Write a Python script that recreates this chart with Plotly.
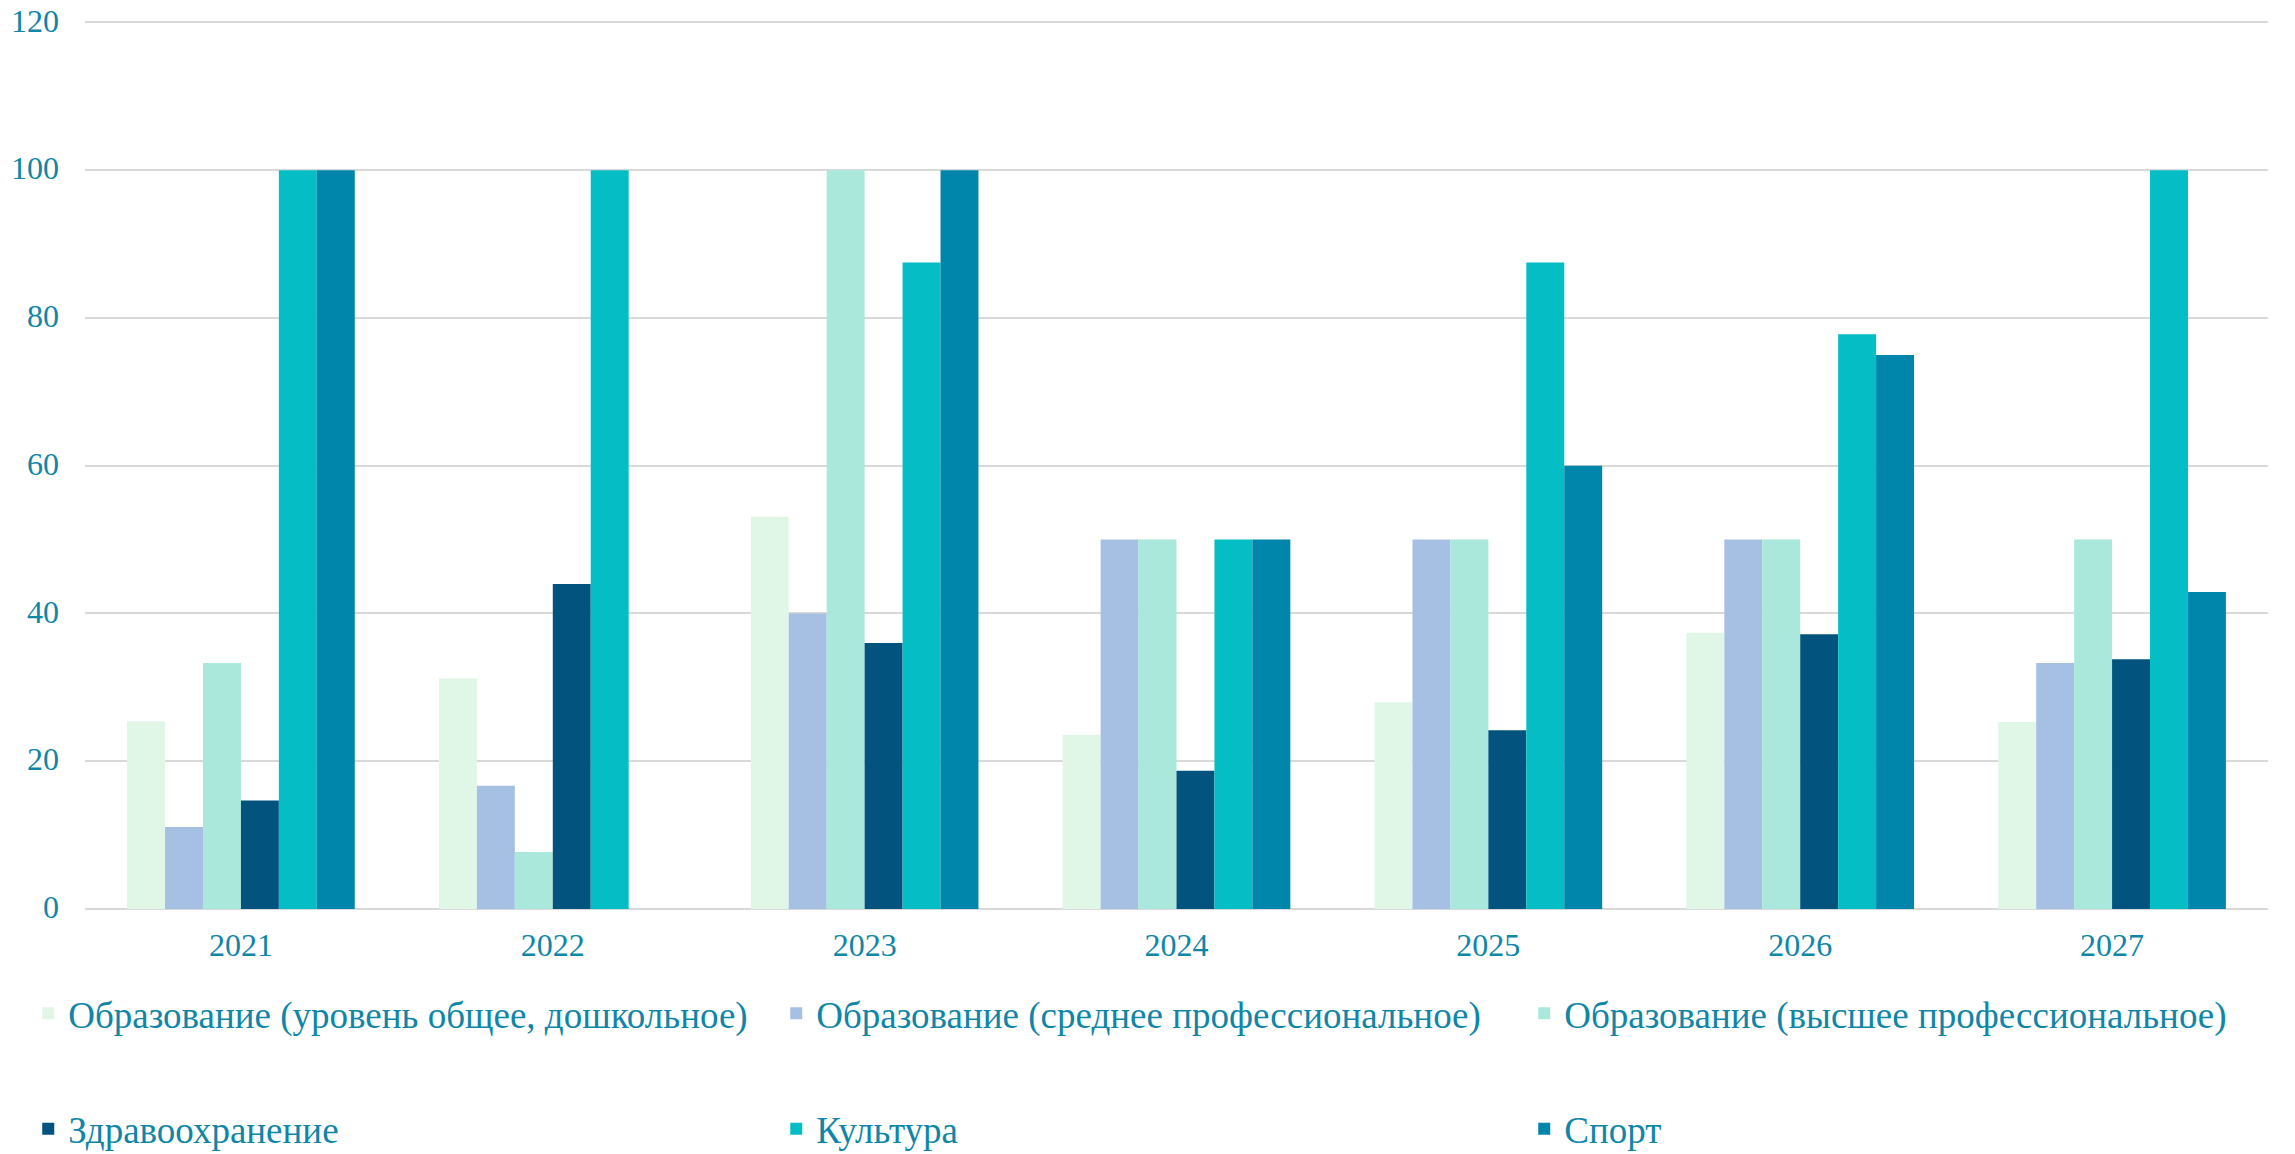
import plotly.graph_objects as go

years = ["2021", "2022", "2023", "2024", "2025", "2026", "2027"]
series_names = [
    "Образование (уровень общее, дошкольное)",
    "Образование (среднее профессиональное)",
    "Образование (высшее профессиональное)",
    "Здравоохранение",
    "Культура",
    "Спорт",
]
edu_general = [25.4, 31.2, 53.1, 23.6, 28.0, 37.4, 25.3]
edu_secondary = [11.1, 16.7, 40.0, 50.0, 50.0, 50.0, 33.3]
edu_higher = [33.3, 7.7, 100.0, 50.0, 50.0, 50.0, 50.0]
health = [14.7, 44.0, 36.0, 18.7, 24.2, 37.2, 33.8]
culture = [100.0, 100.0, 87.5, 50.0, 87.5, 77.8, 100.0]
sport = [100.0, None, 100.0, 50.0, 60.0, 75.0, 42.9]

values = [edu_general, edu_secondary, edu_higher, health, culture, sport]
colors = ["#E0F6E7", "#A6C0E3", "#ABE8DC", "#02547E", "#05BEC5", "#0085AB"]
legend_ids = ["legend", "legend", "legend", "legend2", "legend2", "legend2"]

text_color = "#0F86A8"
font_family = "Liberation Serif"

fig = go.Figure()
for name, vals, col, lg in zip(series_names, values, colors, legend_ids):
    fig.add_trace(go.Bar(x=years, y=vals, name=name, marker=dict(color=col, line=dict(width=0)),
                         legend=lg))

legend_common = dict(
    orientation="h",
    xanchor="left",
    yanchor="middle",
    font=dict(family=font_family, size=37, color=text_color),
    entrywidth=703,
    entrywidthmode="pixels",
    bgcolor="rgba(0,0,0,0)",
    itemclick=False,
)

fig.update_layout(
    width=2287,
    height=1146,
    margin=dict(l=77, r=27, t=13, b=245, autoexpand=False),
    paper_bgcolor="white",
    plot_bgcolor="white",
    barmode="group",
    bargap=0.27,
    bargroupgap=0,
    font=dict(family=font_family, size=32, color=text_color),
    legend=dict(x=-0.026, y=-0.118, traceorder="normal", **legend_common),
    legend2=dict(x=-0.026, y=-0.248, traceorder="normal", **legend_common),
    xaxis=dict(
        showgrid=False,
        showline=False,
        ticks="",
        automargin=False,
        tickfont=dict(family=font_family, size=32, color=text_color),
        ticklabelstandoff=14,
    ),
    yaxis=dict(
        range=[0, 120.2],
        tickvals=[0, 20, 40, 60, 80, 100, 120],
        showgrid=True,
        gridcolor="#D9D9D9",
        gridwidth=1.5,
        zeroline=True,
        zerolinecolor="#D9D9D9",
        zerolinewidth=2,
        showline=False,
        ticks="",
        automargin=False,
        ticklabeloverflow="allow",
        ticklabelshift=-2,
        tickfont=dict(family=font_family, size=32, color=text_color),
        ticklabelstandoff=25,
    ),
)

fig.write_html("out.html")
